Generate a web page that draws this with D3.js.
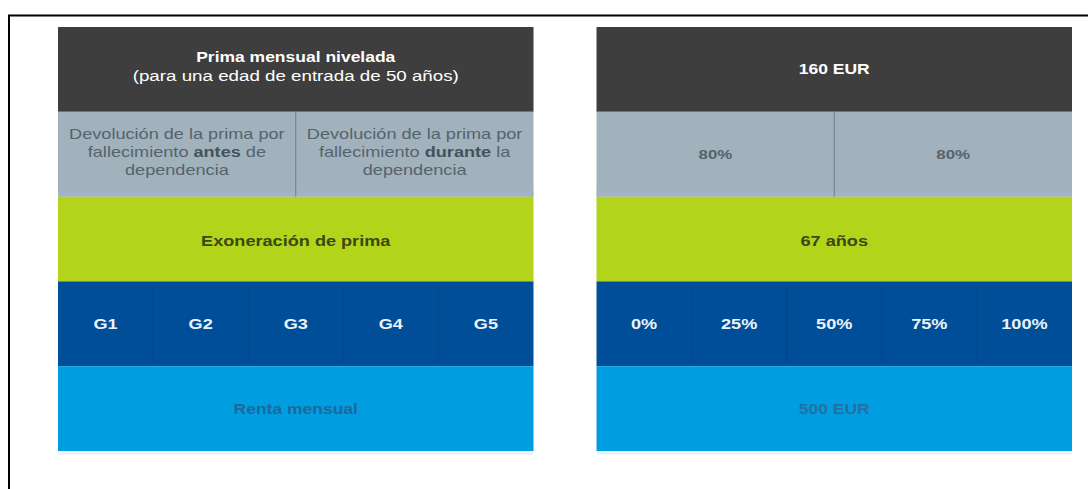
<!DOCTYPE html>
<html><head><meta charset="utf-8">
<script src="https://cdn.jsdelivr.net/npm/d3@7"></script>
<style>body{margin:0;background:#fff}svg{display:block}text{font-family:"Liberation Sans",Arial,sans-serif}</style>
</head><body>
<svg id="c" width="1088" height="489"></svg>
<script>
const panels = ["concepto", "valor"];
const rows = ["prima", "devolucion", "exoneracion", "grados", "renta"];
const rowColors = ["#3e3e3e", "#a1b2bd", "#b2d41a", "#004e98", "#009ee0"];
const rowTextColors = ["#ffffff", "#56636d", "#3a4812", "#eaf2f8", "#22608f"];
const primaLines = ["Prima mensual nivelada", "(para una edad de entrada de 50 años)"];
const primaValue = "160 EUR";
const devolucionLeft = [
  [["Devolución de la prima por", false]],
  [["fallecimiento ", false], ["antes", true], [" de", false]],
  [["dependencia", false]]
];
const devolucionRight = [
  [["Devolución de la prima por", false]],
  [["fallecimiento ", false], ["durante", true], [" la", false]],
  [["dependencia", false]]
];
const devolucionValues = ["80%", "80%"];
const exoneracionLabel = "Exoneración de prima";
const exoneracionValue = "67 años";
const grados = ["G1", "G2", "G3", "G4", "G5"];
const gradoValues = ["0%", "25%", "50%", "75%", "100%"];
const rentaLabel = "Renta mensual";
const rentaValue = "500 EUR";

const STRETCH = 1.25;
const svg = d3.select("#c");
// frame
svg.append("line").attr("x1", 8).attr("x2", 1088).attr("y1", 15.5).attr("y2", 15.5).attr("stroke", "#000").attr("stroke-width", 2);
svg.append("line").attr("x1", 9).attr("x2", 9).attr("y1", 15).attr("y2", 489).attr("stroke", "#000").attr("stroke-width", 2);

const x = d3.scaleBand().domain(panels).range([58, 1072]).paddingInner(0.117);
const y = d3.scaleBand().domain(rows).range([27, 451]);
const bw = x.bandwidth(), bh = y.bandwidth();

panels.forEach((p, pi) => {
  const g = svg.append("g").attr("transform", `translate(${x(p)},0)`);
  // soft shadow under panel
  g.append("rect").attr("x", 0).attr("y", y.range()[1]).attr("width", bw).attr("height", 4).attr("fill", "#eef3f8");
  rows.forEach((r, ri) => {
    g.append("rect").attr("x", 0).attr("y", y(r)).attr("width", bw).attr("height", bh).attr("fill", rowColors[ri]);
  });
  const cx = bw / 2;
  const cy = r => y(r) + bh / 2;
  const txt = (tx, ty, s, ri, bold, size, color) => g.append("text")
      .attr("transform", `translate(${tx},${ty}) scale(${STRETCH},1)`)
      .attr("text-anchor", "middle").attr("dominant-baseline", "central")
      .attr("fill", color || rowTextColors[ri]).attr("font-size", size)
      .attr("font-weight", bold ? "bold" : "normal").text(s);

  // row 0
  if (pi === 0) {
    txt(cx, cy("prima") - 12.5, primaLines[0], 0, true, 14);
    txt(cx, cy("prima") + 6.5, primaLines[1], 0, false, 15);
  } else {
    txt(cx, cy("prima") - 0.5, primaValue, 0, true, 14);
  }
  // row 1 split
  const half = d3.scaleBand().domain([0, 1]).range([0, bw]);
  g.append("rect").attr("x", 0).attr("y", y("devolucion") + bh - 6).attr("width", bw).attr("height", 6).attr("fill", "#a4b2c9").attr("opacity", 0.7);
  g.append("line").attr("x1", half(1)).attr("x2", half(1)).attr("y1", y("devolucion")).attr("y2", y("devolucion") + bh)
    .attr("stroke", "#6d7f8b").attr("stroke-width", 1);
  if (pi === 0) {
    [devolucionLeft, devolucionRight].forEach((lines, hi) => {
      lines.forEach((parts, li) => {
        const t = g.append("text")
          .attr("transform", `translate(${half(hi) + half.bandwidth() / 2},${cy("devolucion") - 3 + (li - 1) * 18}) scale(${STRETCH},1)`)
          .attr("text-anchor", "middle").attr("dominant-baseline", "central").attr("font-size", 14.5).attr("fill", rowTextColors[1]);
        parts.forEach(([s, b]) => t.append("tspan").attr("font-weight", b ? "bold" : "normal").attr("fill", b ? "#45525c" : rowTextColors[1]).text(s));
      });
    });
  } else {
    devolucionValues.forEach((v, hi) => txt(half(hi) + half.bandwidth() / 2, cy("devolucion"), v, 1, true, 13.5, "#56636e"));
  }
  // row 2
  txt(cx, cy("exoneracion") + 1.5, pi === 0 ? exoneracionLabel : exoneracionValue, 2, true, 14.5);
  // row 3 columns
  const labels = pi === 0 ? grados : gradoValues;
  const col = d3.scaleBand().domain(labels).range([0, bw]);
  labels.forEach((l, i) => {
    if (i > 0) g.append("line").attr("x1", col(l)).attr("x2", col(l)).attr("y1", y("grados") + 3).attr("y2", y("grados") + bh - 3)
      .attr("stroke", "#00488f").attr("stroke-width", 1.2);
    txt(col(l) + col.bandwidth() / 2, cy("grados") - 0.5, l, 3, true, 14.5);
  });
  // row 4
  txt(cx, cy("renta") + 0.5, pi === 0 ? rentaLabel : rentaValue, 4, true, 14, pi === 0 ? "#22608f" : "#2a6a99").attr("opacity", 0.85);
});
</script>
</body></html>
